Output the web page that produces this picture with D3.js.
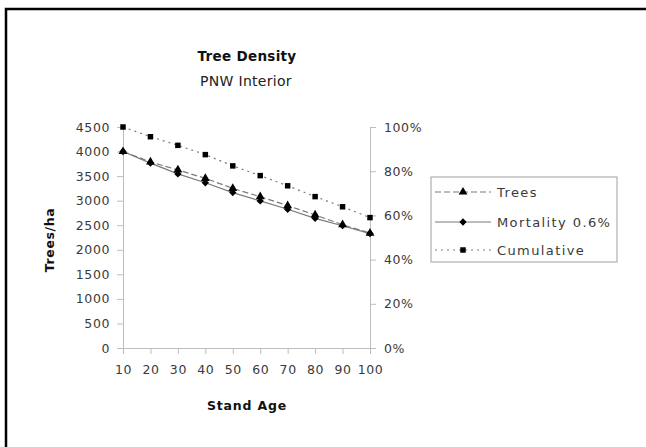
<!DOCTYPE html>
<html>
<head>
<meta charset="utf-8">
<script src="https://cdn.jsdelivr.net/npm/d3@7"></script>
<style>
html,body{margin:0;padding:0;background:#fff;}
svg{display:block;}
text{font-family:"DejaVu Sans",Verdana,sans-serif;}
</style>
</head>
<body>
<svg id="chart" width="646" height="447"></svg>
<script>
const ages = [10, 20, 30, 40, 50, 60, 70, 80, 90, 100];
const trees = [4000, 3790, 3625, 3455, 3250, 3080, 2900, 2710, 2510, 2340];
const mortality = [4000, 3765, 3545, 3365, 3165, 2995, 2825, 2640, 2490, 2330];
const cumulative = [1.00, 0.956, 0.917, 0.875, 0.824, 0.780, 0.734, 0.685, 0.639, 0.590];
const leftTicks = [0, 500, 1000, 1500, 2000, 2500, 3000, 3500, 4000, 4500];
const rightTicks = [0, 0.2, 0.4, 0.6, 0.8, 1.0];
const seriesNames = ["Trees", "Mortality 0.6%", "Cumulative"];

const svg = d3.select("#chart");
const FONT = '"DejaVu Sans",Verdana,sans-serif';

// outer frame
svg.append("rect").attr("x", 6).attr("y", 9).attr("width", 700).attr("height", 500)
  .attr("fill", "none").attr("stroke", "#000").attr("stroke-width", 2.5);

const L = 123, R = 370, T = 127, B = 348;
const x = d3.scaleLinear().domain([10, 100]).range([L, R]);
const yL = d3.scaleLinear().domain([0, 4500]).range([B, T]);
const yR = d3.scaleLinear().domain([0, 1]).range([B, T]);

const axisColor = "#bdbdbd";
const textColor = "#3a3a3a";

function styleAxis(g) {
  g.selectAll("path.domain").attr("stroke", axisColor);
  g.selectAll(".tick line").attr("stroke", axisColor);
  g.selectAll(".tick text").attr("fill", textColor).attr("font-size", 12.5)
    .style("font-family", FONT).style("letter-spacing", "0.6px");
}

const gx = svg.append("g").attr("transform", `translate(0,${B})`)
  .call(d3.axisBottom(x).tickValues(ages).tickSize(6).tickSizeOuter(0).tickPadding(11).tickFormat(d3.format("d")));
styleAxis(gx);

const gl = svg.append("g").attr("transform", `translate(${L},0)`)
  .call(d3.axisLeft(yL).tickValues(leftTicks).tickSize(6).tickSizeOuter(0).tickPadding(7).tickFormat(d3.format("d")));
styleAxis(gl);

const gr = svg.append("g").attr("transform", `translate(${R},0)`)
  .call(d3.axisRight(yR).tickValues(rightTicks).tickSize(6).tickSizeOuter(0).tickPadding(8).tickFormat(d3.format(".0%")));
styleAxis(gr);

// titles
svg.append("text").attr("x", 247).attr("y", 61).attr("text-anchor", "middle")
  .attr("font-size", 13.5).attr("font-weight", "bold").attr("fill", "#111")
  .style("letter-spacing", "0.3px").text("Tree Density");
svg.append("text").attr("x", 246).attr("y", 86).attr("text-anchor", "middle")
  .attr("font-size", 14).attr("fill", "#222").style("letter-spacing", "0.3px").text("PNW Interior");
svg.append("text").attr("x", 247).attr("y", 410).attr("text-anchor", "middle")
  .attr("font-size", 12.5).attr("font-weight", "bold").attr("fill", "#111")
  .style("letter-spacing", "0.8px").text("Stand Age");
svg.append("text").attr("transform", "translate(54,240) rotate(-90)").attr("text-anchor", "middle")
  .attr("font-size", 12.5).attr("font-weight", "bold").attr("fill", "#111")
  .style("letter-spacing", "0.6px").text("Trees/ha");

const lineColor = "#7a7a7a";
const lineL = d3.line().x((d, i) => x(ages[i])).y(d => yL(d));
const lineR = d3.line().x((d, i) => x(ages[i])).y(d => yR(d));

const series = [
  {name: seriesNames[0], data: trees, line: lineL, scale: yL, dash: "6,3", marker: d3.symbolTriangle, size: 34},
  {name: seriesNames[1], data: mortality, line: lineL, scale: yL, dash: null, marker: d3.symbolDiamond2, size: 34},
  {name: seriesNames[2], data: cumulative, line: lineR, scale: yR, dash: "2,4", marker: d3.symbolSquare, size: 30}
];

series.forEach(s => {
  svg.append("path").datum(s.data).attr("d", s.line).attr("fill", "none")
    .attr("stroke", lineColor).attr("stroke-width", 1.2)
    .attr("stroke-dasharray", s.dash);
});
series.forEach(s => {
  svg.append("g").selectAll("path").data(s.data).join("path")
    .attr("d", d3.symbol().type(s.marker).size(s.size))
    .attr("transform", (d, i) => `translate(${x(ages[i])},${s.scale(d)})`)
    .attr("fill", "#000");
});

// legend
const lg = svg.append("g");
lg.append("rect").attr("x", 431).attr("y", 177).attr("width", 186).attr("height", 85)
  .attr("fill", "#fff").attr("stroke", "#a0a0a0").attr("stroke-width", 1);
const legY = [192, 222, 250];
series.forEach((s, i) => {
  lg.append("line").attr("x1", 435).attr("x2", 491).attr("y1", legY[i]).attr("y2", legY[i])
    .attr("stroke", lineColor).attr("stroke-width", 1.2).attr("stroke-dasharray", s.dash);
  lg.append("path").attr("d", d3.symbol().type(s.marker).size(s.size)())
    .attr("transform", `translate(463,${legY[i]})`).attr("fill", "#000");
  lg.append("text").attr("x", 497).attr("y", legY[i]).attr("dy", "0.36em")
    .attr("font-size", 13).attr("fill", textColor).style("letter-spacing", "1.4px").text(s.name);
});
</script>
</body>
</html>
